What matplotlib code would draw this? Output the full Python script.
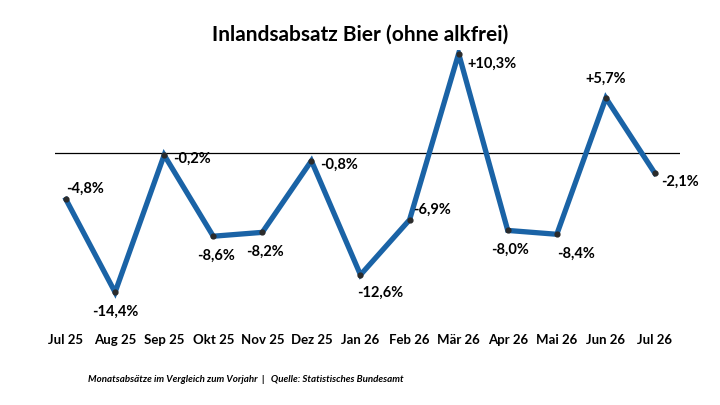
import matplotlib.pyplot as plt
import matplotlib.transforms as mtransforms

plt.rcParams['font.family'] = ['Lato', 'DejaVu Sans']

months = ['Jul 25', 'Aug 25', 'Sep 25', 'Okt 25', 'Nov 25', 'Dez 25', 'Jan 26',
          'Feb 26', 'Mär 26', 'Apr 26', 'Mai 26', 'Jun 26', 'Jul 26']
values = [-4.8, -14.4, -0.2, -8.6, -8.2, -0.8, -12.6, -6.9, 10.3, -8.0, -8.4, 5.7, -2.1]
labels = ['-4,8%', '-14,4%', '-0,2%', '-8,6%', '-8,2%', '-0,8%', '-12,6%',
          '-6,9%', '+10,3%', '-8,0%', '-8,4%', '+5,7%', '-2,1%']
# label offsets in points
offsets = [(14, 8), (0, -14), (20, -3), (2, -14), (2, -14), (20, -3), (14, -13),
           (16, 7), (24, -7), (2, -14), (14, -14), (0, 14), (18, -6)]

fig = plt.figure(figsize=(7.2, 4.05), dpi=100)
W, H = 720, 405
ax = fig.add_axes([55 / W, 1 - 300 / H, 625 / W, 250 / H])
ax.set_xlim(-0.224, 12.51)
ax.set_ylim(-15.2, 10.67)
ax.axis('off')

ax.axhline(0, color='black', lw=0.9)
x = list(range(len(values)))
ax.plot(x, values, color='#1a63a6', lw=3.8, solid_joinstyle='miter', zorder=2)
ax.scatter(x, values, s=12, color='#2b2b2b', zorder=3)

for xi, v, lab, off in zip(x, values, labels, offsets):
    ax.annotate(lab, (xi, v), xytext=off, textcoords='offset points',
                ha='center', va='center', fontsize=10.5, fontweight='bold')

trans = mtransforms.blended_transform_factory(ax.transData, fig.transFigure)
for xi, m in zip(x, months):
    ax.text(xi, 1 - 340 / H, m, transform=trans, ha='center', va='center',
            fontsize=9.5, fontweight='bold', clip_on=False)

fig.text(0.5, 1 - 35 / H, 'Inlandsabsatz Bier (ohne alkfrei)', ha='center',
         va='center', fontsize=15, fontweight='bold')
fig.text(88 / W, 1 - 380 / H,
         'Monatsabsätze im Vergleich zum Vorjahr  |   Quelle: Statistisches Bundesamt',
         ha='left', va='center', fontsize=7, fontweight='bold', style='italic')

fig.savefig('out.png', dpi=100)
